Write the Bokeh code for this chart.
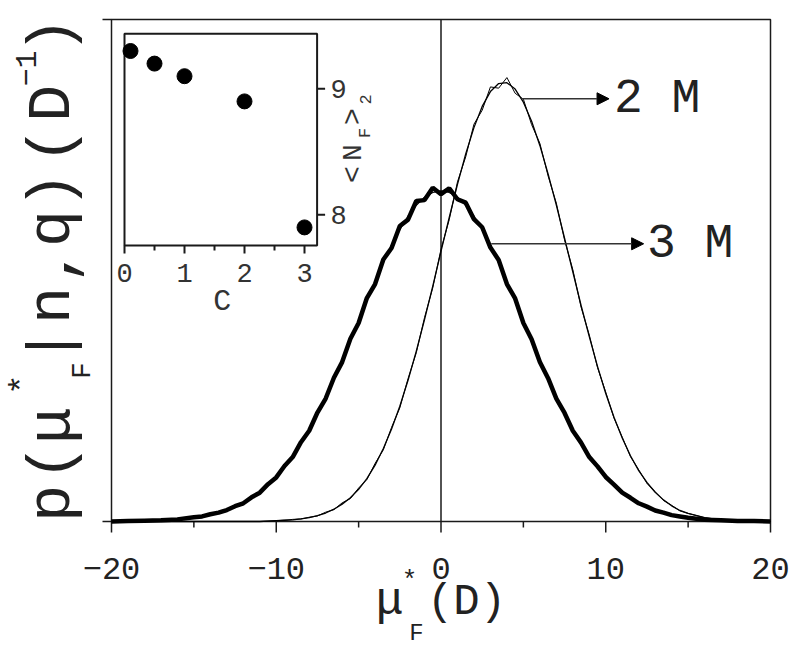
import math
from bokeh.plotting import figure
from bokeh.models import Range1d, Arrow, NormalHead, Label
from bokeh.core.properties import value
from bokeh.embed import file_html
from bokeh.resources import INLINE

# ---------------- data ----------------
X = [-20, -19, -18, -17, -16,
     -15, -14.5, -14, -13.5, -13, -12.5, -12, -11.5, -11, -10.5, -10, -9.5, -9, -8.5, -8, -7.5,
     -7, -6.5, -6, -5.5, -5, -4.5, -4, -3.5, -3, -2.5, -2, -1.5, -1, -0.5, 0, 0.5, 1, 1.5, 2,
     2.5, 3, 3.5, 4, 4.5, 5, 5.5, 6, 6.5, 7, 7.5, 8, 8.5, 9, 9.5, 10, 10.5, 11, 11.5, 12, 12.5,
     13, 13.5, 14, 14.5, 15,
     16, 17, 18, 19, 20]

M3_FIT = [0.0000, 0.0001, 0.0001, 0.0002, 0.0005,
          0.0009, 0.0012, 0.0016, 0.0020, 0.0027, 0.0034, 0.0044, 0.0055, 0.0069, 0.0086, 0.0106,
          0.0128, 0.0154, 0.0184, 0.0217, 0.0253, 0.0293, 0.0335, 0.0380, 0.0426, 0.0473, 0.0520,
          0.0566, 0.0611, 0.0652, 0.0688, 0.0720, 0.0746, 0.0765, 0.0776, 0.0780, 0.0776, 0.0765,
          0.0746, 0.0720, 0.0688, 0.0652, 0.0611, 0.0566, 0.0520, 0.0473, 0.0426, 0.0380, 0.0335,
          0.0293, 0.0253, 0.0217, 0.0184, 0.0154, 0.0128, 0.0106, 0.0086, 0.0069, 0.0055, 0.0044,
          0.0034, 0.0027, 0.0020, 0.0016, 0.0012, 0.0009,
          0.0005, 0.0002, 0.0001, 0.0001, 0.0000]

M3_DATA = [0.0000, 0.0001, 0.0002, 0.0003, 0.0005,
           0.0010, 0.0012, 0.0017, 0.0021, 0.0027, 0.0036, 0.0043, 0.0057, 0.0068, 0.0088, 0.0104,
           0.0131, 0.0152, 0.0187, 0.0214, 0.0257, 0.0290, 0.0339, 0.0376, 0.0431, 0.0468, 0.0527,
           0.0560, 0.0618, 0.0645, 0.0697, 0.0712, 0.0756, 0.0758, 0.0787, 0.0772, 0.0786, 0.0760,
           0.0752, 0.0713, 0.0694, 0.0646, 0.0617, 0.0560, 0.0526, 0.0468, 0.0430, 0.0376, 0.0338,
           0.0290, 0.0256, 0.0214, 0.0186, 0.0152, 0.0130, 0.0105, 0.0087, 0.0068, 0.0056, 0.0043,
           0.0035, 0.0026, 0.0021, 0.0015, 0.0012, 0.0009,
           0.0004, 0.0003, 0.0001, 0.0001, 0.0000]

M2_FIT = [0.0000, 0.0000, 0.0000, 0.0000, 0.0000,
          0.0000, 0.0000, 0.0000, 0.0000, 0.0000, 0.0000, 0.0000, 0.0000, 0.0000, 0.0001, 0.0002,
          0.0003, 0.0004, 0.0006, 0.0009, 0.0014, 0.0020, 0.0029, 0.0041, 0.0056, 0.0076, 0.0101,
          0.0133, 0.0172, 0.0218, 0.0272, 0.0333, 0.0402, 0.0476, 0.0555, 0.0637, 0.0717, 0.0795,
          0.0867, 0.0929, 0.0979, 0.1014, 0.1033, 0.1035, 0.1020, 0.0989, 0.0944, 0.0887, 0.0820,
          0.0746, 0.0668, 0.0589, 0.0510, 0.0436, 0.0366, 0.0302, 0.0246, 0.0197, 0.0155, 0.0120,
          0.0092, 0.0069, 0.0051, 0.0037, 0.0026, 0.0019,
          0.0009, 0.0004, 0.0002, 0.0001, 0.0000]

M2_DATA = [0.0000, 0.0000, 0.0000, 0.0000, 0.0000,
           0.0000, 0.0000, 0.0000, 0.0000, 0.0000, 0.0000, 0.0000, 0.0000, 0.0000, 0.0001, 0.0002,
           0.0003, 0.0005, 0.0006, 0.0010, 0.0013, 0.0022, 0.0028, 0.0044, 0.0054, 0.0079, 0.0099,
           0.0137, 0.0169, 0.0222, 0.0268, 0.0337, 0.0398, 0.0481, 0.0551, 0.0642, 0.0712, 0.0801,
           0.0860, 0.0937, 0.0970, 0.1025, 0.1022, 0.1047, 0.1010, 0.0996, 0.0936, 0.0892, 0.0815,
           0.0751, 0.0664, 0.0594, 0.0506, 0.0440, 0.0363, 0.0305, 0.0244, 0.0199, 0.0153, 0.0122,
           0.0090, 0.0070, 0.0050, 0.0038, 0.0025, 0.0019,
           0.0009, 0.0004, 0.0002, 0.0001, 0.0000]

X_MAJOR_TICKS = [-20, -10, 0, 10, 20]
X_MINOR_TICKS = [-15, -5, 5, 15]

# inset data
C_VALUES = [0.1, 0.5, 1.0, 2.0, 3.0]
NF2_VALUES = [9.30, 9.20, 9.10, 8.90, 7.90]
INSET_X_TICKS = [0, 1, 2, 3]
INSET_X_MINOR = [0.5, 1.5, 2.5]
INSET_Y_TICKS = [8, 9]

# ---------------- layout (pixels) ----------------
W, H = 800, 657
FL, FR, FT, FB = 111, 770, 19, 521          # plot-area box in canvas pixels
XMIN, XMAX, YMIN, YMAX = -20, 20, 0.0, 0.1184
INK = "#1a1a1a"
TXT = "#222222"
FONT = "Liberation Mono"

kx = (FR - FL) / (XMAX - XMIN)              # px per data unit
ky = (FB - FT) / (YMAX - YMIN)
x_range = Range1d(XMIN - FL / kx, XMAX + (W - FR) / kx)
y_range = Range1d(YMIN - (H - FB) / ky, YMAX + FT / ky)

p = figure(width=W, height=H, x_range=x_range, y_range=y_range,
           x_axis_type=None, y_axis_type=None,
           output_backend="svg", toolbar_location=None,
           min_border=0, background_fill_color="white", border_fill_color="white")
p.outline_line_color = None
p.grid.visible = False

def dx(px):
    return px / kx

def dy(px):
    return px / ky

# plot-area box and axes (ticks drawn through the data scale)
p.quad(left=[XMIN], right=[XMAX], bottom=[YMIN], top=[YMAX], fill_color=None,
       line_color=INK, line_width=1.5)
p.segment(x0=X_MAJOR_TICKS, y0=[YMIN] * len(X_MAJOR_TICKS), x1=X_MAJOR_TICKS,
          y1=[YMIN - dy(11)] * len(X_MAJOR_TICKS), line_color=INK, line_width=1.5)
p.segment(x0=X_MINOR_TICKS, y0=[YMIN] * len(X_MINOR_TICKS), x1=X_MINOR_TICKS,
          y1=[YMIN - dy(6)] * len(X_MINOR_TICKS), line_color=INK, line_width=1.5)
p.segment(x0=[XMIN, XMIN], y0=[YMIN, YMAX], x1=[XMIN - dx(9)] * 2, y1=[YMIN, YMAX],
          line_color=INK, line_width=1.5)
p.text(x=X_MAJOR_TICKS, y=[YMIN - dy(47)] * len(X_MAJOR_TICKS),
       text=[str(t).replace("-", "\u2212") for t in X_MAJOR_TICKS],
       text_font=value(FONT), text_font_size="32px", text_align="center",
       text_baseline="middle", text_color=TXT)
# vertical line at zero
p.segment(x0=[0], y0=[YMIN], x1=[0], y1=[YMAX], line_color=INK, line_width=1.5)

# curves
p.line(X, M3_DATA, line_color="black", line_width=4.5)
p.line(X, M3_FIT, line_color="black", line_width=1.2)
p.line(X, M2_DATA, line_color="black", line_width=1.0)
p.line(X, M2_FIT, line_color="black", line_width=1.3)

# arrows and labels
p.add_layout(Arrow(end=NormalHead(size=12, fill_color="black", line_color="black"),
                   x_start=4.9, y_start=0.0997, x_end=10.2, y_end=0.0997,
                   line_color="#333333", line_width=1.5))
p.add_layout(Arrow(end=NormalHead(size=12, fill_color="black", line_color="black"),
                   x_start=3.05, y_start=0.0655, x_end=12.3, y_end=0.0655,
                   line_color="#333333", line_width=1.5))
p.add_layout(Label(x=10.5, y=0.0997, text="2 M", text_font=FONT, text_font_size="48px",
                   text_align="left", text_baseline="middle", text_color=TXT))
p.add_layout(Label(x=12.5, y=0.0655, text="3 M", text_font=FONT, text_font_size="48px",
                   text_align="left", text_baseline="middle", text_color=TXT))

# ---------------- inset ----------------
IX0, IX1, IY0, IY1 = 0.0, 3.21, 7.756, 9.437
IPX0, IKX = 124, 60.0        # inset: x=0 at pixel 124, 60 px per unit
IPY9, IKY = 88.3, 126.0      # inset: y=9 at pixel 88.3, 126 px per unit
p.extra_x_ranges = {"ix": Range1d(-IPX0 / IKX, (W - IPX0) / IKX)}
p.extra_y_ranges = {"iy": Range1d(9 - (H - IPY9) / IKY, 9 + IPY9 / IKY)}
kw = dict(x_range_name="ix", y_range_name="iy")
p.quad(left=[IX0], right=[IX1], bottom=[IY0], top=[IY1], fill_color="white",
       line_color=INK, line_width=2, **kw)
p.segment(x0=INSET_X_TICKS, y0=[IY0] * 4, x1=INSET_X_TICKS, y1=[IY0 - 8 / IKY] * 4,
          line_color=INK, line_width=2, **kw)
p.segment(x0=INSET_X_MINOR, y0=[IY0] * 3, x1=INSET_X_MINOR, y1=[IY0 - 5 / IKY] * 3,
          line_color=INK, line_width=2, **kw)
p.segment(x0=[IX1] * 2, y0=INSET_Y_TICKS, x1=[IX1 + 8 / IKX] * 2, y1=INSET_Y_TICKS,
          line_color=INK, line_width=2, **kw)
p.scatter(C_VALUES, NF2_VALUES, size=15, fill_color="black", line_color="black", **kw)
p.text(x=INSET_X_TICKS, y=[7.54] * 4, text=[str(t) for t in INSET_X_TICKS],
       text_font=value(FONT), text_font_size="27px", text_align="center",
       text_baseline="middle", text_color="#333333", **kw)
p.text(x=[3.57] * 2, y=INSET_Y_TICKS, text=[str(t) for t in INSET_Y_TICKS],
       text_font=value(FONT), text_font_size="27px", text_align="center",
       text_baseline="middle", text_color="#333333", **kw)
p.text(x=[1.63], y=[7.31], text=["C"], text_font=value(FONT), text_font_size="30px",
       text_align="center", text_baseline="middle", text_color="#333333", **kw)
# rotated <N_F>_2
p.text(x=[3.82, 3.82, 3.82], y=[8.32, 8.494, 8.78], text=["<", "N", ">"], angle=math.pi / 2,
       text_font=value(FONT), text_font_size="28px", text_align="center",
       text_baseline="middle", text_color="#333333", **kw)
p.text(x=[4.02, 4.02], y=[8.65, 8.915], text=["F", "2"], angle=math.pi / 2,
       text_font=value(FONT), text_font_size="17px", text_align="center",
       text_baseline="middle", text_color="#333333", **kw)

# ---------------- axis titles (canvas units: origin top-left, y down) ----------------
def lab(ix, iy, text, size, angle=0.0):
    p.add_layout(Label(x=ix, y=iy, x_units="canvas", y_units="canvas", text=text,
                       angle=angle, text_font=FONT, text_font_size=size,
                       text_align="center", text_baseline="middle", text_color=TXT))

# x title: mu*_F (D)
lab(389, 601, "\u03bc", "46px")
lab(409, 580, "*", "26px")
lab(416, 633, "F", "24px")
lab(466, 601, "(D)", "44px")

# y title: p(mu*_F|n,q) (D^-1), rotated
R = math.pi / 2
for ch, yy in [("p", 503), ("(", 462), ("\u03bc", 425), ("|", 345), ("n", 305), (",", 265),
               ("q", 228), (")", 190), ("(", 145), ("D", 103), (")", 35)]:
    lab(52, yy, ch, "62px", angle=R)
lab(22, 384, "*", "34px", angle=R)
lab(82, 370, "F", "28px", angle=R)
lab(25, 68, "\u22121", "30px", angle=R)

with open("out.html", "w") as f:
    f.write(file_html(p, INLINE))
